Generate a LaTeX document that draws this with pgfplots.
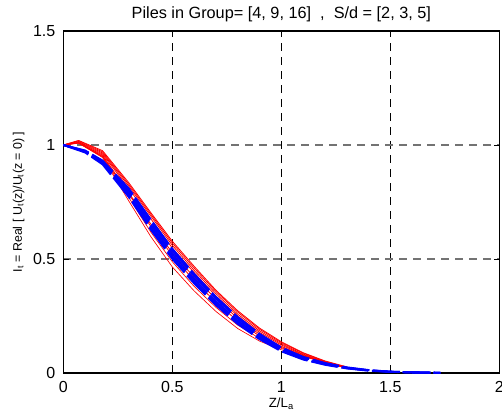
\documentclass[border=0pt]{standalone}
\usepackage{fontspec}
\setmainfont{Liberation Sans}
\usepackage{pgfplots}
\pgfplotsset{compat=1.18}
\begin{document}
\begin{tikzpicture}
\begin{axis}[
  scale only axis, width=327pt, height=256.5pt,
  xmin=0, xmax=2, ymin=0, ymax=1.5,
  xtick={0,0.5,1,1.5,2}, ytick={0,0.5,1,1.5},
  xticklabels={0,0.5,1,1.5,2}, yticklabels={0,0.5,1,1.5},
  tick align=inside, major tick length=4pt,
  tick style={black, line width=0.5pt},
  ticklabel style={font=\fontsize{12}{14}\selectfont},
  xticklabel style={yshift=-2.5pt},
  yticklabel style={xshift=-2.5pt},
  grid=major,
  x grid style={black, dash pattern=on 6pt off 4.5pt, line width=0.6pt},
  y grid style={black!55, dash pattern=on 6pt off 4.5pt, line width=0.8pt},
  axis line style={black, line width=0.9pt},
  every axis title shift=0pt,
  title={Piles in Group= [4, 9, 16]\ \ ,\ \ S/d = [2, 3, 5]},
  title style={font=\fontsize{12.2}{14}\selectfont, at={(axis description cs:0.5,1)}, anchor=base, yshift=9pt},
  xlabel={Z/L\textsubscript{a}},
  ylabel={I\textsubscript{t} = Real [ U\textsubscript{t}(z)/U\textsubscript{t}(z = 0) ]},
  xlabel style={font=\fontsize{10}{12}\selectfont, inner sep=1pt, at={(axis description cs:0.5,0)}, anchor=base, yshift=-25.5pt},
  ylabel style={font=\fontsize{9.3}{11}\selectfont, at={(axis description cs:-0.0948,0.5)}, anchor=base},
]
% red curves
\addplot[red, line width=0.6pt] coordinates {(0,1) (0.07,1.02) (0.18,0.975) (0.3,0.835) (0.4,0.705) (0.5,0.578) (0.6,0.468) (0.7,0.363) (0.8,0.273) (0.9,0.197) (1.0,0.137) (1.1,0.089) (1.2,0.053) (1.3,0.027)};
\addplot[red, line width=0.6pt] coordinates {(0,1) (0.07,1.018) (0.18,0.97) (0.3,0.828) (0.4,0.698) (0.5,0.57) (0.6,0.46) (0.7,0.357) (0.8,0.267) (0.9,0.192) (1.0,0.133) (1.1,0.087) (1.2,0.051) (1.3,0.025)};
\addplot[red, line width=0.6pt] coordinates {(0,1) (0.07,1.015) (0.18,0.965) (0.3,0.82) (0.4,0.69) (0.5,0.56) (0.6,0.45) (0.7,0.348) (0.8,0.258) (0.9,0.185) (1.0,0.128) (1.1,0.083) (1.2,0.049) (1.3,0.024)};
\addplot[red, line width=0.6pt] coordinates {(0,1) (0.07,1.012) (0.18,0.96) (0.3,0.81) (0.4,0.678) (0.5,0.548) (0.6,0.44) (0.7,0.338) (0.8,0.25) (0.9,0.178) (1.0,0.123) (1.1,0.08) (1.2,0.047) (1.3,0.023)};
\addplot[red, line width=0.6pt] coordinates {(0,1) (0.07,1.01) (0.18,0.955) (0.3,0.79) (0.4,0.655) (0.5,0.528) (0.6,0.42) (0.7,0.325) (0.8,0.24) (0.9,0.17) (1.0,0.117) (1.1,0.077) (1.2,0.046) (1.3,0.022)};
\addplot[red, line width=0.6pt] coordinates {(0,1) (0.07,1.01) (0.18,0.95) (0.3,0.785) (0.4,0.645) (0.5,0.515) (0.6,0.405) (0.7,0.31) (0.8,0.228) (0.9,0.162) (1.0,0.112) (1.1,0.075) (1.2,0.045) (1.3,0.022)};
\addplot[red, line width=0.5pt] coordinates {(0,1) (0.07,1.008) (0.18,0.945) (0.3,0.755) (0.4,0.6) (0.5,0.465) (0.6,0.36) (0.7,0.27) (0.8,0.195) (0.9,0.14) (1.0,0.102) (1.1,0.073) (1.2,0.046) (1.3,0.022)};
\addplot[red, line width=0.5pt] coordinates {(0,1) (0.07,1.008) (0.18,0.948) (0.3,0.77) (0.4,0.62) (0.5,0.488) (0.6,0.38) (0.7,0.288) (0.8,0.21) (0.9,0.152) (1.0,0.108) (1.1,0.075) (1.2,0.047) (1.3,0.023)};
% blue curves
\addplot[blue, line width=1.4pt, dash pattern=on 20pt off 3pt] coordinates {(0,1) (0.1,0.976) (0.18,0.932) (0.3,0.81) (0.4,0.675) (0.5,0.545) (0.6,0.435) (0.7,0.334) (0.8,0.246) (0.9,0.172) (1.0,0.112) (1.1,0.071) (1.2,0.044) (1.3,0.025) (1.4,0.013) (1.5,0.006) (1.6,0.003) (1.73,0.001)};
\addplot[blue, line width=1.4pt, dash pattern=on 20pt off 3pt] coordinates {(0,1) (0.1,0.974) (0.18,0.928) (0.3,0.8) (0.4,0.664) (0.5,0.535) (0.6,0.426) (0.7,0.326) (0.8,0.239) (0.9,0.167) (1.0,0.108) (1.1,0.068) (1.2,0.042) (1.3,0.023) (1.4,0.012) (1.5,0.006) (1.6,0.003) (1.73,0.001)};
\addplot[blue, line width=1.4pt, dash pattern=on 20pt off 3pt] coordinates {(0,1) (0.1,0.972) (0.18,0.924) (0.3,0.79) (0.4,0.652) (0.5,0.522) (0.6,0.413) (0.7,0.315) (0.8,0.23) (0.9,0.16) (1.0,0.103) (1.1,0.065) (1.2,0.04) (1.3,0.022) (1.4,0.012) (1.5,0.005) (1.6,0.003) (1.73,0.001)};
\addplot[blue, line width=1.4pt, dash pattern=on 20pt off 3pt] coordinates {(0,1) (0.1,0.97) (0.18,0.92) (0.3,0.78) (0.4,0.64) (0.5,0.51) (0.6,0.402) (0.7,0.305) (0.8,0.222) (0.9,0.153) (1.0,0.099) (1.1,0.061) (1.2,0.038) (1.3,0.021) (1.4,0.011) (1.5,0.005) (1.6,0.003) (1.73,0.001)};
\addplot[blue, line width=1.4pt, dash pattern=on 20pt off 3pt] coordinates {(0,1) (0.1,0.967) (0.18,0.915) (0.3,0.772) (0.4,0.63) (0.5,0.5) (0.6,0.393) (0.7,0.297) (0.8,0.215) (0.9,0.148) (1.0,0.095) (1.1,0.059) (1.2,0.036) (1.3,0.02) (1.4,0.01) (1.5,0.005) (1.6,0.002) (1.73,0.001)};
\end{axis}
\pgfresetboundingbox
\useasboundingbox ([xshift=-47.5pt,yshift=-33pt]current axis.south west) rectangle ([xshift=329pt,yshift=279.75pt]current axis.south west);
\end{tikzpicture}
\end{document}
